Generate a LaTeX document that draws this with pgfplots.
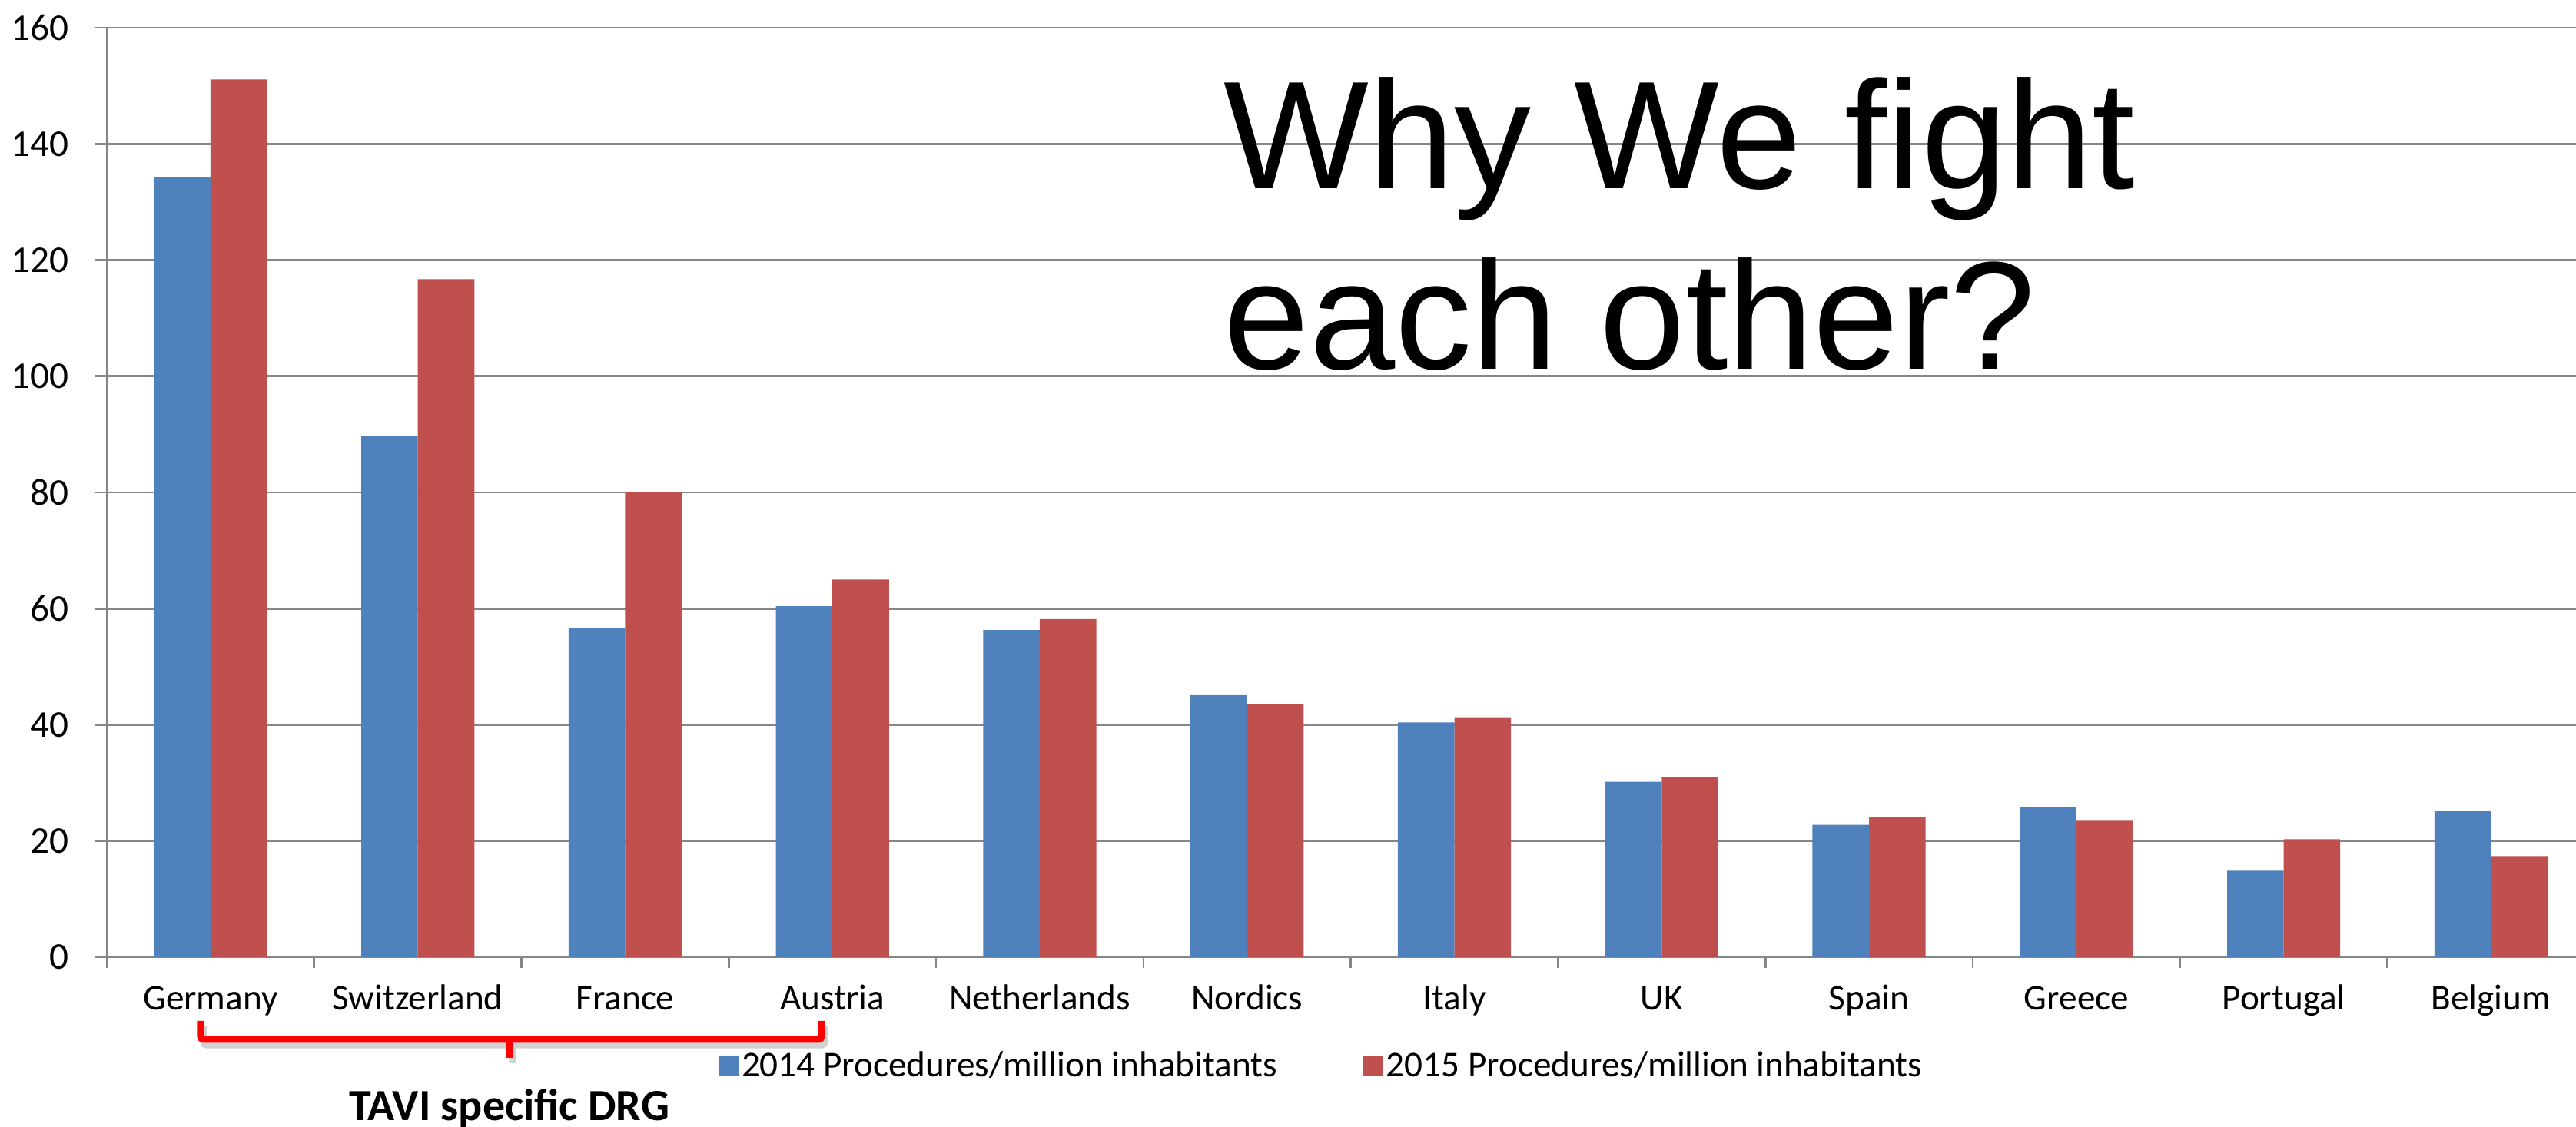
\documentclass[border=0pt]{standalone}
\usepackage{pgfplots}
\pgfplotsset{compat=1.18}
\usepackage{fontspec}
\setmainfont{Carlito}
\newfontfamily\arialfont{Liberation Sans}
\definecolor{blu}{HTML}{4F81BD}
\definecolor{rd}{HTML}{C0504D}
\definecolor{gridgray}{HTML}{868686}
\begin{document}
\begin{tikzpicture}
\clip (0,0) rectangle (838pt,366.75pt);
\begin{axis}[
  at={(34.75pt,55.25pt)}, anchor=south west,
  scale only axis, width=803.25pt, height=302.5pt,
  xmin=-0.5, xmax=11.41, ymin=0, ymax=160,
  ybar=0pt, bar width=18.4pt,
  axis x line*=bottom, axis y line*=left,
  axis line style={gridgray, line width=0.65pt},
  ymajorgrids, grid style={gridgray, line width=0.65pt},
  ytick={0,20,...,160},
  xtick={0,...,11},
  xticklabels={Germany,Switzerland,France,Austria,Netherlands,Nordics,Italy,UK,Spain,Greece,Portugal,Belgium},
  minor xtick={-0.5,0.5,...,11.5},
  major x tick style={draw=none},
  minor x tick style={gridgray, line width=0.65pt},
  y tick style={gridgray, line width=0.65pt},
  tick align=outside, major tick length=4pt, minor tick length=3.4pt,
  /pgf/number format/assume math mode=true,
  ticklabel style={font=\fontsize{11.8}{14}\selectfont},
  xticklabel style={anchor=base, inner sep=0pt, yshift=-13.2pt},
  yticklabel style={anchor=east, inner sep=0pt, xshift=-8.3pt, font=\fontsize{12.3}{14}\selectfont},
  legend style={at={(0.2475,-0.1174)}, anchor=west, draw=none, fill=none, inner sep=0pt,
    legend columns=2, font=\fontsize{11.8}{14}\selectfont,
    nodes={inner sep=1pt},
    /tikz/every even column/.append style={column sep=27pt}},
  legend image code/.code={\fill[#1] (0pt,-3.25pt) rectangle (6.5pt,3.25pt);},
]
\addplot[fill=blu, draw=none] coordinates {(0,134.3) (1,89.7) (2,56.6) (3,60.4) (4,56.3) (5,45.1) (6,40.4) (7,30.2) (8,22.8) (9,25.8) (10,14.9) (11,25.1)};
\addplot[fill=rd, draw=none] coordinates {(0,151.1) (1,116.7) (2,80.0) (3,65.0) (4,58.2) (5,43.6) (6,41.3) (7,31.0) (8,24.1) (9,23.5) (10,20.3) (11,17.4)};
\legend{2014 Procedures/million inhabitants, 2015 Procedures/million inhabitants}
\end{axis}
\node[font=\arialfont\fontsize{50}{60}\selectfont, anchor=base west, inner sep=0pt] at (398pt,305.25pt) {Why We fight};
\node[font=\arialfont\fontsize{50}{60}\selectfont, anchor=base west, inner sep=0pt] at (398pt,246.5pt) {each other?};
\draw[black!40, opacity=0.45, line width=2.2pt, rounded corners=1pt, transform canvas={xshift=1pt, yshift=-1.8pt}] (65.2pt,34.5pt) -- (65.2pt,28.5pt) -- (267.3pt,28.5pt) -- (267.3pt,34.5pt) (165.7pt,28.5pt) -- (165.7pt,22.5pt);
\draw[red, line width=2.2pt, rounded corners=1pt] (65.2pt,34.5pt) -- (65.2pt,28.5pt) -- (267.3pt,28.5pt) -- (267.3pt,34.5pt) (165.7pt,28.5pt) -- (165.7pt,22.5pt);
\node[font=\bfseries\fontsize{14.5}{17}\selectfont, anchor=base, inner sep=0pt] at (165.7pt,2pt) {TAVI specific DRG};
\end{tikzpicture}
\end{document}
